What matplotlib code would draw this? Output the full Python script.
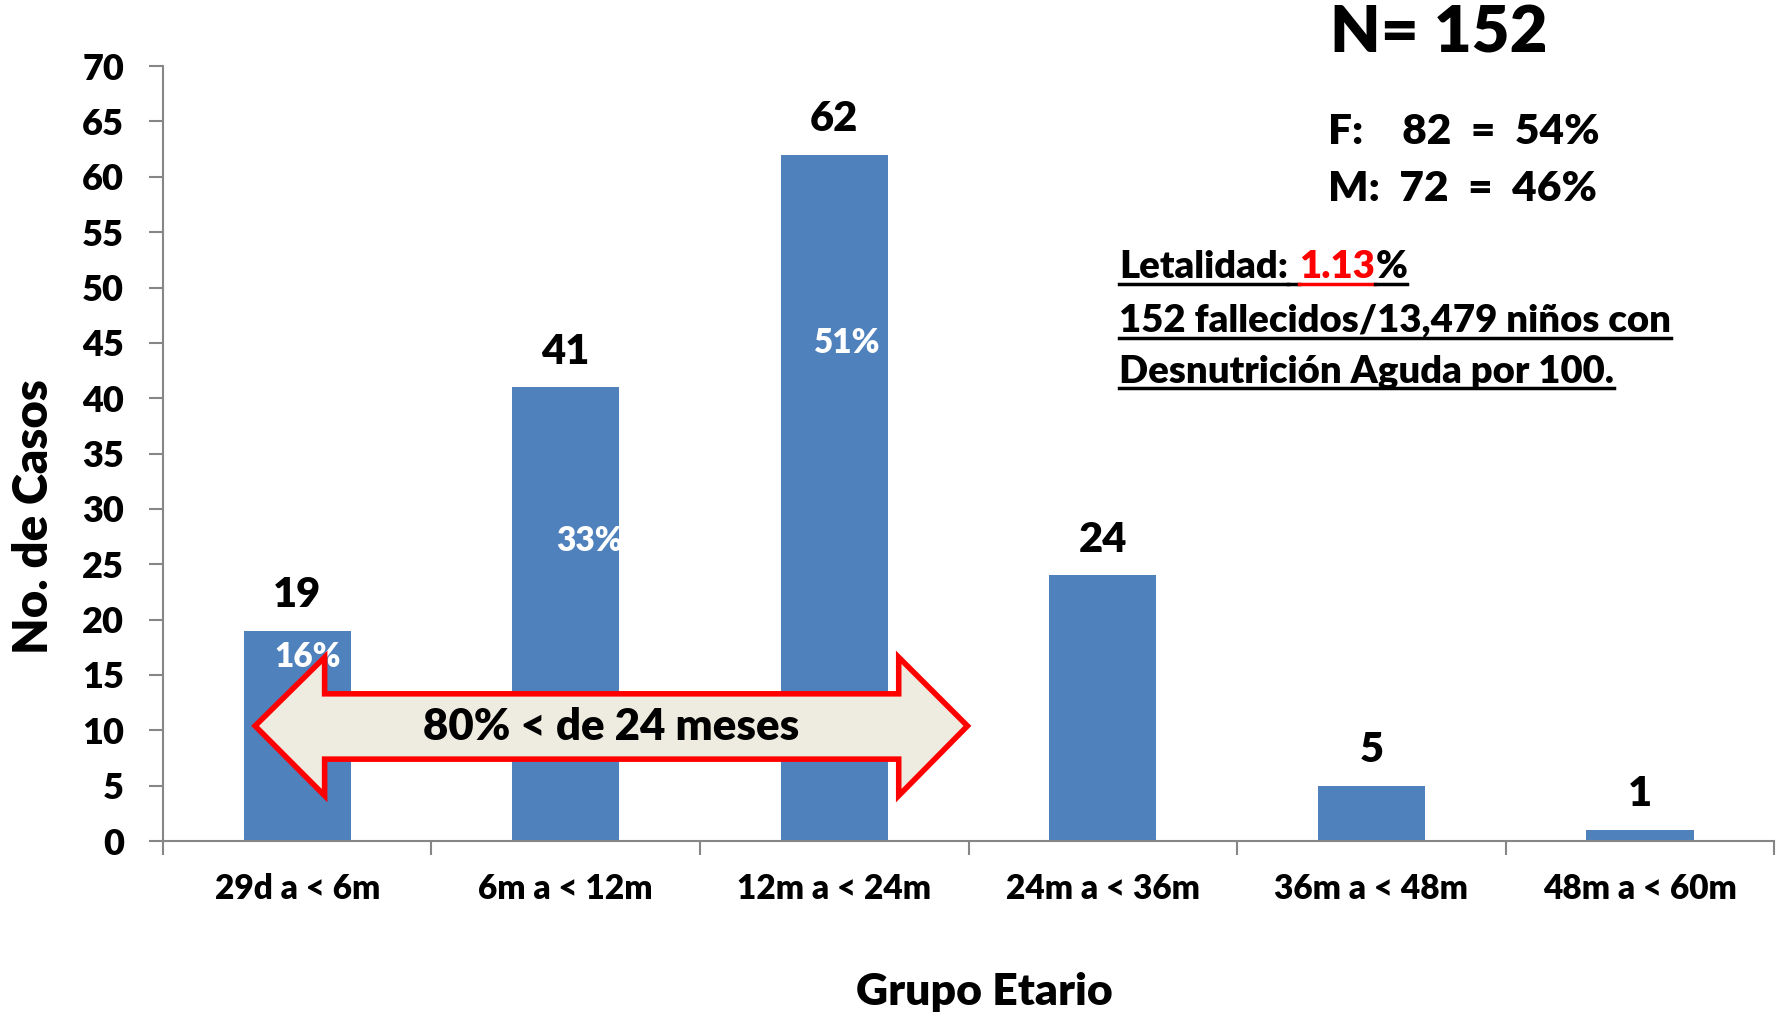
import matplotlib
matplotlib.use('Agg')
from matplotlib import pyplot as plt
from matplotlib.patches import Polygon
from matplotlib.lines import Line2D

plt.rcParams['font.family'] = ['Lato', 'DejaVu Sans']
plt.rcParams['font.weight'] = 'bold'

# data
grupos = ['29d a < 6m', '6m a < 12m', '12m a < 24m', '24m a < 36m', '36m a < 48m', '48m a < 60m']
casos = [19, 41, 62, 24, 5, 1]
porcentajes = ['16%', '33%', '51%']
# where the percent labels sit (x offset from bar centre, y in casos)
pct_dx = [0.04, 0.09, 0.05]
pct_y = [16.6, 27.1, 45.0]

bar_color = '#4F81BD'
axis_gray = '#868686'
W = 'heavy'

fig = plt.figure(figsize=(17.83, 10.17), dpi=100)
ax = fig.add_axes([0.0914, 0.173, 0.9036, 0.762])

x = list(range(len(grupos)))
ax.bar(x, casos, width=0.4, color=bar_color, zorder=2)

for i, v in enumerate(casos):
    ax.annotate(str(v), (i, v), xytext=(0, 17), textcoords='offset points',
                ha='center', va='baseline', fontsize=30, fontweight=W)

for i, p in enumerate(porcentajes):
    ax.text(i + pct_dx[i], pct_y[i], p, color='white', fontsize=24,
            fontweight=W, ha='center', va='center', zorder=3)

ax.set_xlim(-0.5, len(grupos) - 0.5)
ax.set_ylim(0, 70)
ax.set_yticks(range(0, 71, 5))
ax.set_xticks(x)
ax.set_xticklabels(grupos)
ax.set_xticks([i - 0.5 for i in range(len(grupos) + 1)], minor=True)

for s in ['top', 'right']:
    ax.spines[s].set_visible(False)
for s in ['left', 'bottom']:
    ax.spines[s].set_color(axis_gray)
    ax.spines[s].set_linewidth(1.5)

ax.tick_params(axis='y', labelsize=26, length=10, width=1.5, color=axis_gray, pad=18)
ax.tick_params(axis='x', which='major', labelsize=24, length=0, pad=23)
ax.tick_params(axis='x', which='minor', length=10, width=1.5, color=axis_gray)
for lab in ax.get_xticklabels() + ax.get_yticklabels():
    lab.set_fontweight(W)

fig.text(0.019, 0.492, 'No. de Casos', rotation=90, fontsize=34, fontweight=W,
         ha='center', va='center')
fig.text(0.552, 0.025, 'Grupo Etario', fontsize=32, fontweight=W,
         ha='center', va='center')

# double arrow "80% < de 24 meses"
arrow = Polygon([(-0.157, 10.4), (0.102, 16.6), (0.102, 13.3), (2.24, 13.3),
                 (2.24, 16.6), (2.496, 10.4), (2.24, 4.1), (2.24, 7.4),
                 (0.102, 7.4), (0.102, 4.1)], closed=True,
                facecolor='#EEEBE0', edgecolor='#FF0000', linewidth=4,
                joinstyle='miter', zorder=4)
ax.add_patch(arrow)
ax.text(1.17, 10.3, '80% < de 24 meses', fontsize=31.5, fontweight=W,
        ha='center', va='center', zorder=5)

# texts on the right
fig.text(0.746, 0.967, 'N= 152', fontsize=47, fontweight=W, va='center')
fig.text(0.745, 0.870, 'F:    82  =  54%', fontsize=30.5, fontweight=W, va='center')
fig.text(0.745, 0.814, 'M:  72  =  46%', fontsize=30.5, fontweight=W, va='center')

fig.canvas.draw()
r = fig.canvas.get_renderer()
inv = fig.transFigure.inverted()


def underline(t, color):
    bb = t.get_window_extent(r)
    y0 = t.get_position()[1] * fig.bbox.height - 6
    (xa, ya) = inv.transform((bb.x0, y0))
    (xb, yb) = inv.transform((bb.x1, y0))
    fig.add_artist(Line2D([xa, xb], [ya, yb], color=color, linewidth=2.5,
                          transform=fig.transFigure))
    return bb


left = 0.6276
fs = 27.5
t1 = fig.text(left, 0.727, 'Letalidad:', fontsize=fs, fontweight=W, va='baseline')
bb = underline(t1, 'black')
sp_w = fs * 100 / 72 * 0.3
t2 = fig.text(0, 0.727, '1.13', fontsize=fs, fontweight=W, va='baseline', color='#FF0000')
t2.set_x(inv.transform((bb.x1 + sp_w, 0))[0])
# underline the space too, in black
ys = 0.727 * fig.bbox.height - 6
fig.add_artist(Line2D([inv.transform((bb.x1, 0))[0], inv.transform((bb.x1 + sp_w, 0))[0]],
                      [inv.transform((0, ys))[1]] * 2, color='black', linewidth=2.5,
                      transform=fig.transFigure))
bb2 = underline(t2, '#FF0000')
t3 = fig.text(inv.transform((bb2.x1, 0))[0], 0.727, '%', fontsize=fs, fontweight=W, va='baseline')
underline(t3, 'black')

t4 = fig.text(left, 0.674, '152 fallecidos/13,479 niños con', fontsize=fs, fontweight=W, va='baseline')
underline(t4, 'black')
t5 = fig.text(left, 0.624, 'Desnutrición Aguda por 100.', fontsize=fs, fontweight=W, va='baseline')
underline(t5, 'black')

fig.savefig('out.png', dpi=100)
